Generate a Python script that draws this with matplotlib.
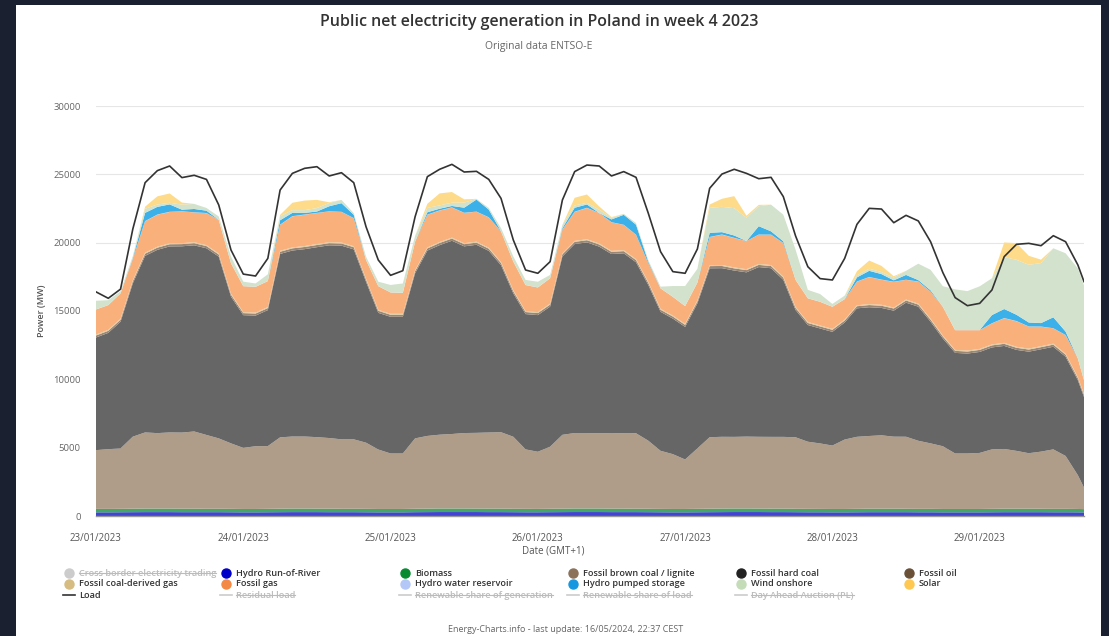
import matplotlib.pyplot as plt
from matplotlib.patches import Rectangle
from matplotlib.lines import Line2D

plt.rcParams['font.family'] = ['Open Sans', 'DejaVu Sans']

# time axis in hours since 23/01/2023 00:00, two-hour samples
hours = list(range(0, 162, 2)) + [161]
day_labels = ["23/01/2023", "24/01/2023", "25/01/2023", "26/01/2023",
              "27/01/2023", "28/01/2023", "29/01/2023"]

load = [16400, 15930, 16600, 21000, 24390, 25270, 25610, 24760, 24930, 24630,
        22760, 19460, 17700, 17560, 18850, 23850, 25070, 25440, 25560, 24880,
        25120, 24390, 21170, 18730, 17610, 17950, 21900, 24830, 25370, 25730,
        25170, 25220, 24630, 23240, 20200, 18000, 17760, 18610, 23120, 25200,
        25680, 25610, 24880, 25200, 24780, 22150, 19340, 17880, 17760, 19540,
        23980, 25020, 25370, 25070, 24680, 24780, 23370, 20490, 18240, 17370,
        17270, 18850, 21340, 22510, 22460, 21460, 22000, 21590, 20070, 17810,
        15980, 15390, 15560, 16540, 18980, 19880, 19950, 19780, 20510, 20070,
        18370, 17150]

hydro_ror = [270, 270, 275, 280, 285, 285, 285, 280, 280, 280,
             280, 275, 270, 270, 275, 280, 285, 285, 285, 280,
             280, 280, 275, 270, 270, 270, 280, 285, 290, 290,
             290, 290, 285, 285, 280, 275, 275, 280, 285, 290,
             290, 290, 285, 285, 285, 280, 275, 270, 270, 275,
             280, 285, 290, 290, 290, 285, 285, 280, 275, 275,
             270, 270, 275, 280, 280, 280, 280, 275, 275, 270,
             270, 270, 270, 275, 280, 280, 280, 280, 275, 275,
             270, 265]

biomass = [250, 250, 250, 255, 260, 260, 260, 255, 255, 250,
           250, 250, 245, 245, 250, 255, 260, 260, 255, 255,
           250, 250, 250, 245, 245, 245, 250, 255, 260, 260,
           260, 255, 255, 255, 250, 250, 245, 250, 255, 260,
           260, 260, 255, 255, 250, 250, 245, 245, 245, 250,
           255, 260, 260, 260, 255, 255, 255, 250, 250, 245,
           245, 245, 250, 255, 255, 255, 250, 250, 250, 245,
           245, 245, 245, 250, 255, 255, 255, 250, 250, 250,
           245, 240]

lignite = [4300, 4370, 4420, 5270, 5570, 5520, 5570, 5570, 5650, 5400,
           5150, 4790, 4470, 4590, 4590, 5220, 5270, 5270, 5230, 5170,
           5080, 5080, 4840, 4350, 4060, 4060, 5150, 5320, 5400, 5450,
           5520, 5540, 5570, 5590, 5270, 4350, 4180, 4540, 5400, 5520,
           5520, 5500, 5530, 5510, 5520, 4980, 4250, 4010, 3620, 4420,
           5230, 5250, 5240, 5260, 5250, 5250, 5250, 5230, 4910, 4790,
           4640, 5080, 5270, 5320, 5370, 5270, 5270, 4980, 4790, 4590,
           4060, 4060, 4100, 4350, 4370, 4230, 4060, 4180, 4350, 3870,
           2470, 1570]

hard_coal = [8240, 8510, 9270, 11220, 12920, 13410, 13610, 13630, 13620, 13660,
             13300, 10730, 9710, 9560, 9950, 13420, 13610, 13710, 13900, 14100,
             14170, 13900, 11780, 10000, 10000, 10000, 12080, 13560, 13870, 14140,
             13660, 13760, 13290, 12220, 10490, 9900, 10000, 10250, 13050, 13830,
             13950, 13660, 13100, 13170, 12510, 11390, 10170, 9920, 9700, 10610,
             12360, 12340, 12170, 12020, 12420, 12340, 11490, 9310, 8540, 8410,
             8320, 8560, 9400, 9420, 9320, 9220, 9810, 9810, 8900, 7880,
             7360, 7310, 7390, 7460, 7540, 7390, 7430, 7490, 7510, 7260,
             6950, 6630]

fossil_oil = [150, 150, 150, 155, 160, 160, 160, 160, 160, 160,
              155, 150, 150, 150, 150, 160, 160, 160, 160, 160,
              160, 160, 155, 150, 150, 150, 155, 160, 160, 160,
              160, 160, 160, 160, 155, 150, 150, 150, 160, 160,
              160, 160, 160, 160, 160, 155, 150, 150, 150, 150,
              160, 160, 160, 160, 160, 160, 160, 155, 150, 150,
              150, 150, 155, 160, 160, 160, 160, 155, 150, 150,
              150, 150, 150, 150, 155, 155, 155, 155, 155, 150,
              150, 150]

coal_gas = [70, 70, 70, 70, 70, 70, 70, 70, 70, 70,
            70, 70, 70, 70, 70, 70, 70, 70, 70, 70,
            70, 70, 70, 70, 70, 70, 70, 70, 70, 70,
            70, 70, 70, 70, 70, 70, 70, 70, 70, 70,
            70, 70, 70, 70, 70, 70, 70, 70, 70, 70,
            70, 70, 70, 70, 70, 70, 70, 70, 70, 70,
            70, 70, 70, 70, 70, 70, 70, 70, 70, 70,
            70, 70, 70, 70, 70, 70, 70, 70, 70, 70,
            70, 70]

fossil_gas = [1830, 1810, 1850, 1560, 2300, 2340, 2290, 2320, 2180, 2340,
              2460, 2220, 1900, 1880, 1900, 1900, 2270, 2290, 2270, 2250,
              2240, 2050, 1360, 1730, 1560, 1530, 2090, 2390, 2300, 2200,
              2220, 2190, 2220, 2240, 2100, 1900, 1800, 1850, 1730, 2120,
              2290, 2220, 2090, 1850, 1780, 1370, 1490, 1370, 1300, 1300,
              2050, 2220, 2150, 2050, 2140, 2220, 2460, 1980, 1730, 1730,
              1610, 1490, 1730, 1970, 1830, 1880, 1440, 1610, 1970, 2100,
              1440, 1490, 1370, 1540, 1800, 1870, 1610, 1430, 1120, 1360,
              1370, 1000]

hydro_reservoir = [10, 10, 10, 10, 15, 15, 15, 10, 10, 10,
                   10, 10, 10, 10, 10, 15, 15, 15, 10, 10,
                   10, 10, 10, 10, 10, 10, 10, 15, 15, 15,
                   10, 10, 10, 10, 10, 10, 10, 10, 10, 15,
                   15, 10, 10, 10, 10, 10, 10, 10, 10, 10,
                   15, 15, 15, 10, 10, 10, 10, 10, 10, 10,
                   10, 10, 10, 15, 15, 10, 10, 10, 10, 10,
                   10, 10, 10, 10, 15, 15, 10, 10, 10, 10,
                   10, 10]

pumped_storage = [0, 0, 0, 50, 600, 560, 540, 120, 240, 170,
                  0, 0, 0, 0, 0, 320, 240, 120, 100, 370,
                  630, 240, 0, 0, 0, 0, 0, 170, 120, 100,
                  370, 880, 560, 0, 0, 0, 0, 0, 100, 290,
                  240, 0, 200, 730, 730, 100, 0, 0, 0, 0,
                  300, 170, 170, 0, 610, 240, 120, 0, 0, 0,
                  0, 0, 300, 450, 400, 100, 350, 100, 100, 0,
                  0, 0, 0, 600, 660, 460, 290, 250, 800, 250,
                  0, 0]

wind_onshore = [630, 350, 150, 150, 300, 170, 120, 370, 370, 200,
                240, 490, 320, 240, 490, 290, 200, 200, 250, 240,
                240, 120, 240, 320, 540, 680, 410, 320, 240, 240,
                370, 50, 120, 240, 370, 370, 410, 240, 240, 170,
                120, 240, 120, 70, 120, 120, 120, 780, 1460, 1000,
                1830, 1850, 2000, 1700, 1460, 1950, 1950, 2200, 610, 560,
                200, 250, 150, 150, 150, 200, 300, 1200, 1500, 1500,
                2980, 2850, 3200, 2690, 3800, 4020, 4220, 4390, 5050, 5730,
                6580, 6950]

solar = [0, 0, 0, 0, 150, 600, 680, 150, 0, 0,
         0, 0, 0, 0, 0, 100, 540, 700, 600, 50,
         0, 0, 0, 0, 0, 0, 0, 300, 880, 780,
         240, 0, 0, 0, 0, 0, 0, 0, 0, 560,
         610, 240, 50, 0, 0, 0, 0, 0, 0, 0,
         240, 590, 880, 150, 100, 0, 0, 0, 0, 0,
         0, 0, 300, 600, 450, 100, 0, 0, 0, 0,
         0, 0, 0, 0, 1070, 1220, 660, 250, 0, 0,
         0, 0]

area_colors = ["#4343d3", "#3faa62", "#b09d89", "#666666", "#9a8674", "#dccb9f",
               "#f9b07a", "#c2d4fb", "#3cb0e8", "#d2e2cc", "#fddb8a"]

W, H = 1109, 636
fig = plt.figure(figsize=(W / 100, H / 100), dpi=100, facecolor="#1b2030")
fig.add_artist(Rectangle((16 / W, 0), (1101 - 16) / W, (H - 5) / H,
                         transform=fig.transFigure, facecolor="white",
                         edgecolor="none", zorder=0))

ax = fig.add_axes([96 / W, 1 - 516 / H, (1084 - 96) / W, (516 - 106) / H])
ax.stackplot(hours, hydro_ror, biomass, lignite, hard_coal, fossil_oil, coal_gas,
             fossil_gas, hydro_reservoir, pumped_storage, wind_onshore, solar,
             colors=area_colors, linewidth=0, zorder=2)
ax.plot(hours, load, color="#333333", lw=1.2, zorder=3)

ax.set_xlim(0, 161)
ax.set_ylim(0, 30000)
ax.set_yticks(range(0, 30001, 5000))
ax.set_yticklabels([str(v) for v in range(0, 30001, 5000)])
ax.set_xticks(range(0, 145, 24))
ax.set_xticklabels(day_labels)
ax.tick_params(axis="y", length=0, pad=11, labelsize=6.8, labelcolor="#666666")
ax.tick_params(axis="x", length=0, pad=12, labelsize=7, labelcolor="#555555")
ax.grid(axis="y", color="#e6e6e6", lw=0.8, zorder=0)
ax.set_axisbelow(True)
for side in ["top", "right", "left"]:
    ax.spines[side].set_visible(False)
ax.spines["bottom"].set_color("#999999")
ax.spines["bottom"].set_linewidth(1.0)
ax.spines["bottom"].set_zorder(4)

fig.text(539 / W, 1 - 22 / H, "Public net electricity generation in Poland in week 4 2023",
         ha="center", va="center", fontsize=11.5, fontweight="semibold", color="#333333")
fig.text(539 / W, 1 - 46 / H, "Original data ENTSO-E", ha="center", va="center",
         fontsize=7.5, color="#666666")
fig.text(42 / W, 1 - 311 / H, "Power (MW)", rotation=90, ha="center", va="center",
         fontsize=6.5, fontweight="semibold", color="#555555")
fig.text(553 / W, 1 - 551 / H, "Date (GMT+1)", ha="center", va="center",
         fontsize=7, color="#555555")
fig.text(566 / W, 1 - 630 / H, "Energy-Charts.info - last update: 16/05/2024, 22:37 CEST",
         ha="center", va="center", fontsize=6.5, color="#666666")

# legend, drawn by hand to get the highcharts layout
col_x = [69, 226, 405, 573, 741, 909]
row_y = [573, 584, 595]
legend_rows = [
    [("Cross border electricity trading", "dot", "#cccccc", True),
     ("Hydro Run-of-River", "dot", "#0000c8", False),
     ("Biomass", "dot", "#0a8a30", False),
     ("Fossil brown coal / lignite", "dot", "#8b7258", False),
     ("Fossil hard coal", "dot", "#222222", False),
     ("Fossil oil", "dot", "#6b5038", False)],
    [("Fossil coal-derived gas", "dot", "#d6bc80", False),
     ("Fossil gas", "dot", "#f28a45", False),
     ("Hydro water reservoir", "dot", "#b4c8f8", False),
     ("Hydro pumped storage", "dot", "#1598e0", False),
     ("Wind onshore", "dot", "#c4dcb8", False),
     ("Solar", "dot", "#ffc850", False)],
    [("Load", "line", "#333333", False),
     ("Residual load", "line", "#cccccc", True),
     ("Renewable share of generation", "line", "#cccccc", True),
     ("Renewable share of load", "line", "#cccccc", True),
     ("Day Ahead Auction (PL)", "line", "#cccccc", True)],
]

hidden_texts = []
for r, row in enumerate(legend_rows):
    yf = 1 - row_y[r] / H
    for c, (label, kind, color, hidden) in enumerate(row):
        xm = col_x[c]
        if kind == "dot":
            fig.add_artist(Line2D([xm / W], [yf], marker="o", markersize=6.5,
                                  color=color, transform=fig.transFigure))
        else:
            fig.add_artist(Line2D([(xm - 6) / W, (xm + 6) / W], [yf, yf], lw=1.2,
                                  color=color, transform=fig.transFigure))
        t = fig.text((xm + 10) / W, yf, label, ha="left", va="center", fontsize=6.6,
                     fontweight="semibold", color="#bbbbbb" if hidden else "#333333")
        if hidden:
            hidden_texts.append(t)

fig.canvas.draw()
renderer = fig.canvas.get_renderer()
for t in hidden_texts:
    bb = t.get_window_extent(renderer)
    ymid = (bb.y0 + bb.y1) / 2 / H
    fig.add_artist(Line2D([bb.x0 / W, bb.x1 / W], [ymid, ymid], lw=0.8,
                          color="#bbbbbb", transform=fig.transFigure))

fig.savefig("out.png", dpi=100, facecolor=fig.get_facecolor())
